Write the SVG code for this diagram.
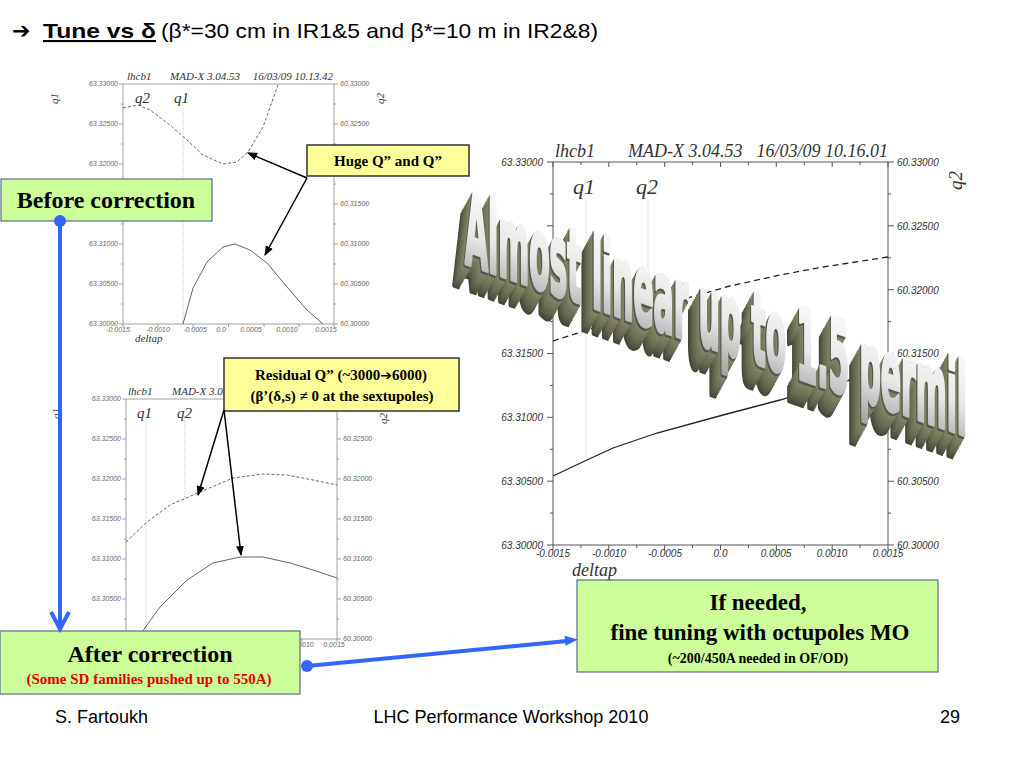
<svg xmlns="http://www.w3.org/2000/svg" xmlns:xlink="http://www.w3.org/1999/xlink" width="1024" height="768" viewBox="0 0 1024 768">
<defs>
<style>
.ax{stroke:#888;stroke-width:0.8;fill:none}
.axR{stroke:#555;stroke-width:1;fill:none}
.tk{font-family:"Liberation Sans",sans-serif;font-style:italic;font-size:7px;fill:#666}
.tkR{font-family:"Liberation Sans",sans-serif;font-style:italic;font-size:10px;fill:#333}
.hdr{font-family:"Liberation Serif",serif;font-style:italic;fill:#333}
.dS{stroke:#555;stroke-width:0.9;stroke-dasharray:3 2;fill:none}
.sS{stroke:#555;stroke-width:0.9;fill:none}
.dR{stroke:#222;stroke-width:1.3;stroke-dasharray:6 4;fill:none}
.sR{stroke:#222;stroke-width:1.3;fill:none}
.vl{stroke:#bbb;stroke-width:0.8;stroke-dasharray:1 1;fill:none}
.boxY{fill:#FFFF99;stroke:#333;stroke-width:1.5}
.boxG{fill:#CCFF99;stroke:#5a6a90;stroke-width:1.2}
.bt{font-family:"Liberation Serif",serif;font-weight:bold;text-anchor:middle;fill:#000}
.blue{stroke:#3366FF;stroke-width:4;fill:none}
.blk{stroke:#000;stroke-width:1.5;fill:none;marker-end:url(#ah)}
.ft{font-family:"Liberation Sans",sans-serif;font-size:18px;fill:#000}
.ext{stroke-width:5;stroke-linejoin:round}
</style>
<marker id="ah" viewBox="0 0 10 8" refX="9" refY="4" markerWidth="10" markerHeight="8" markerUnits="userSpaceOnUse" orient="auto">
<path d="M0,0 L10,4 L0,8 z" fill="#000"/>
</marker>
<linearGradient id="face" x1="0" y1="0" x2="0" y2="1">
<stop offset="0" stop-color="#ffffff"/>
<stop offset="0.55" stop-color="#e8e8e8"/>
<stop offset="1" stop-color="#a0a0a0"/>
</linearGradient>
<text id="wa" transform="translate(465,263) skewY(19)" x="0" y="0" font-family="'Liberation Sans Narrow','DejaVu Sans Condensed',sans-serif" font-weight="bold" font-size="100" textLength="502" lengthAdjust="spacingAndGlyphs">Almost linear up to 1.5 permil</text>
</defs>

<rect width="1024" height="768" fill="#fff"/>

<!-- Title -->
<text y="38" font-family="'Liberation Sans','DejaVu Sans',sans-serif" font-size="21" fill="#000"><tspan x="12" font-family="'DejaVu Sans',sans-serif" font-weight="bold" font-size="22">➔</tspan><tspan x="43" font-weight="bold" text-decoration="underline" textLength="113" lengthAdjust="spacingAndGlyphs">Tune vs δ</tspan><tspan x="161" textLength="437" lengthAdjust="spacingAndGlyphs">(β*=30 cm in IR1&amp;5 and β*=10 m in IR2&amp;8)</tspan></text>

<!-- Top-left plot -->
<g id="plot-before">
<path class="ax" d="M123,84 V324 H334 V84 Z"/>
<path class="ax" d="M119,84H123M121,104H123M119,124H123M121,144H123M119,164H123M121,184H123M119,204H123M121,224H123M119,244H123M121,264H123M119,284H123M121,304H123M119,324H123
M334,84H338M334,104H336M334,124H338M334,144H336M334,164H338M334,184H336M334,204H338M334,224H336M334,244H338M334,264H336M334,284H338M334,304H336M334,324H338
M123,324V327M158,324V327M193,324V327M228.5,324V327M264,324V327M299,324V327M334,324V327"/>
<g class="tk" text-anchor="end">
<text x="118" y="86">63.33000</text>
<text x="118" y="126">63.32500</text>
<text x="118" y="166">63.32000</text>
<text x="118" y="246">63.31000</text>
<text x="118" y="286">63.30500</text>
<text x="118" y="326">63.30000</text>
</g>
<g class="tk">
<text x="340" y="86">60.33000</text>
<text x="340" y="126">60.32500</text>
<text x="340" y="206">60.31500</text>
<text x="340" y="246">60.31000</text>
<text x="340" y="286">60.30500</text>
<text x="340" y="326">60.30000</text>
</g>
<g class="tk" text-anchor="middle" font-size="6.5">
<text x="118" y="332">-0.0015</text>
<text x="158" y="332">-0.0010</text>
<text x="195" y="332">-0.0005</text>
<text x="221" y="332">0.0</text>
<text x="251" y="332">0.0005</text>
<text x="287" y="332">0.0010</text>
<text x="326" y="332">0.0015</text>
</g>
<text class="hdr" x="135" y="342" font-size="11">deltap</text>
<text class="hdr" x="127" y="80" font-size="11">lhcb1</text>
<text class="hdr" x="170" y="80" font-size="11">MAD-X 3.04.53</text>
<text class="hdr" x="333" y="80" font-size="11" text-anchor="end">16/03/09 10.13.42</text>
<text class="hdr" x="135" y="103" font-size="15">q2</text>
<text class="hdr" x="174" y="103" font-size="15">q1</text>
<text class="hdr" font-size="11" transform="translate(58,104) rotate(-90)">q1</text>
<text class="hdr" font-size="11" transform="translate(384,104) rotate(-90)">q2</text>
<path class="vl" d="M183,108V324"/>
<polyline class="dS" points="123,108 138,105 150,110 170,125 187,140 203,155 223,164 237,162 248,152 263,127 278,85"/>
<polyline class="sS" points="183,324 193,288 207,262 223,247 235,244 250,250 267,263 287,287 307,310 323,324"/>
</g>

<!-- Bottom-left plot -->
<g id="plot-after">
<path class="ax" d="M126,399 V639 H337 V399 Z"/>
<path class="ax" d="M122,399H126M124,419H126M122,439H126M124,459H126M122,479H126M124,499H126M122,519H126M124,539H126M122,559H126M124,579H126M122,599H126M124,619H126M122,639H126
M337,399H341M337,419H339M337,439H341M337,459H339M337,479H341M337,499H339M337,519H341M337,539H339M337,559H341M337,579H339M337,599H341M337,619H339M337,639H341
M126,639V642M161,639V642M196,639V642M231.5,639V642M267,639V642M302,639V642M337,639V642"/>
<g class="tk" text-anchor="end">
<text x="121" y="401">63.33000</text>
<text x="121" y="441">63.32500</text>
<text x="121" y="481">63.32000</text>
<text x="121" y="521">63.31500</text>
<text x="121" y="561">63.31000</text>
<text x="121" y="601">63.30500</text>
</g>
<g class="tk">
<text x="343" y="441">60.32500</text>
<text x="343" y="481">60.32000</text>
<text x="343" y="521">60.31500</text>
<text x="343" y="561">60.31000</text>
<text x="343" y="601">60.30500</text>
<text x="343" y="641">60.30000</text>
</g>
<g class="tk" text-anchor="middle" font-size="6.5">
<text x="303" y="647">0.0010</text>
<text x="334" y="647">0.0015</text>
</g>
<text class="hdr" x="128" y="395" font-size="11">lhcb1</text>
<text class="hdr" x="172" y="395" font-size="11">MAD-X 3.04.53</text>
<text class="hdr" x="137" y="418" font-size="15">q1</text>
<text class="hdr" x="177" y="418" font-size="15">q2</text>
<text class="hdr" font-size="11" transform="translate(60,419) rotate(-90)">q1</text>
<text class="hdr" font-size="11" transform="translate(387,424) rotate(-90)">q2</text>
<path class="vl" d="M146,420V639M185,420V497"/>
<polyline class="dS" points="126,542 147,522 170,505 200,492 233,478 263,474 287,475 313,480 337,485"/>
<polyline class="sS" points="137,639 142,632 160,607 187,580 213,563 240,557 263,557 290,563 313,570 337,578"/>
</g>

<!-- Right plot -->
<g id="plot-right">
<path class="axR" d="M553,162 V545 H888 V162 Z"/>
<path class="axR" d="M547,162H553M550,193.9H553M547,225.8H553M550,257.8H553M547,289.7H553M550,321.6H553M547,353.5H553M550,385.4H553M547,417.3H553M550,449.3H553M547,481.2H553M550,513.1H553M547,545H553
M888,162H894M888,193.9H891M888,225.8H894M888,257.8H891M888,289.7H894M888,321.6H891M888,353.5H894M888,385.4H891M888,417.3H894M888,449.3H891M888,481.2H894M888,513.1H891M888,545H894
M553,162V167M580.9,162V165M608.8,162V167M636.8,162V165M664.7,162V167M692.6,162V165M720.5,162V167M748.4,162V165M776.3,162V167M804.3,162V165M832.2,162V167M860.1,162V165M888,162V167
M553,545V550M580.9,545V548M608.8,545V550M636.8,545V548M664.7,545V550M692.6,545V548M720.5,545V550M748.4,545V548M776.3,545V550M804.3,545V548M832.2,545V550M860.1,545V548M888,545V550"/>
<g class="tkR" text-anchor="end">
<text x="543" y="166">63.33000</text>
<text x="543" y="357">63.31500</text>
<text x="543" y="421">63.31000</text>
<text x="543" y="485">63.30500</text>
<text x="543" y="549">63.30000</text>
</g>
<g class="tkR">
<text x="897" y="166">60.33000</text>
<text x="897" y="230">60.32500</text>
<text x="897" y="294">60.32000</text>
<text x="897" y="357">60.31500</text>
<text x="897" y="485">60.30500</text>
<text x="897" y="549">60.30000</text>
</g>
<g class="tkR" text-anchor="middle">
<text x="553" y="557">-0.0015</text>
<text x="609" y="557">-0.0010</text>
<text x="665" y="557">-0.0005</text>
<text x="720.5" y="557">0.0</text>
<text x="776" y="557">0.0005</text>
<text x="832" y="557">0.0010</text>
<text x="888" y="557">0.0015</text>
</g>
<text class="hdr" x="572" y="576" font-size="18">deltap</text>
<text class="hdr" x="555" y="157" font-size="18">lhcb1</text>
<text class="hdr" x="628" y="157" font-size="18">MAD-X 3.04.53</text>
<text class="hdr" x="888" y="157" font-size="18" text-anchor="end">16/03/09 10.16.01</text>
<text class="hdr" x="573" y="194" font-size="22">q1</text>
<text class="hdr" x="636" y="194" font-size="22">q2</text>
<text class="hdr" font-size="19" transform="translate(962,190) rotate(-90)">q2</text>
<path class="vl" d="M586,200V458M648,200V317"/>
<polyline class="dR" points="553,341 613,322 670,303 730,286 780,275 823,267 888,257"/>
<polyline class="sR" points="553,476 570,468 587,460 613,448 657,433 723,415 780,400 813,390 850,380 888,370"/>
</g>

<!-- WordArt -->
<g id="wordart">
<use xlink:href="#wa" href="#wa" class="ext" x="-12.1" y="22" fill="#45463a" stroke="#45463a"/>
<use xlink:href="#wa" href="#wa" class="ext" x="-11" y="20" fill="#4e5040" stroke="#4e5040"/>
<use xlink:href="#wa" href="#wa" class="ext" x="-9.9" y="18" fill="#575946" stroke="#575946"/>
<use xlink:href="#wa" href="#wa" class="ext" x="-8.8" y="16" fill="#5f614c" stroke="#5f614c"/>
<use xlink:href="#wa" href="#wa" class="ext" x="-7.7" y="14" fill="#666851" stroke="#666851"/>
<use xlink:href="#wa" href="#wa" class="ext" x="-6.6" y="12" fill="#6c6e55" stroke="#6c6e55"/>
<use xlink:href="#wa" href="#wa" class="ext" x="-5.5" y="10" fill="#717359" stroke="#717359"/>
<use xlink:href="#wa" href="#wa" class="ext" x="-4.4" y="8" fill="#76785d" stroke="#76785d"/>
<use xlink:href="#wa" href="#wa" class="ext" x="-3.3" y="6" fill="#7b7d61" stroke="#7b7d61"/>
<use xlink:href="#wa" href="#wa" class="ext" x="-2.2" y="4" fill="#808265" stroke="#808265"/>
<use xlink:href="#wa" href="#wa" class="ext" x="-1.1" y="2" fill="#55574a" stroke="#55574a"/>
<use xlink:href="#wa" href="#wa" fill="url(#face)" stroke="url(#face)" stroke-width="4.5" stroke-linejoin="round"/>
</g>

<!-- Nodes -->
<g id="box-huge">
<rect class="boxY" x="307" y="145" width="162" height="31"/>
<text class="bt" x="388" y="166" font-size="15">Huge Q” and Q”</text>
</g>
<g id="box-before">
<rect class="boxG" x="1" y="179" width="211" height="42"/>
<text class="bt" x="106" y="208" font-size="24">Before correction</text>
</g>
<g id="box-residual">
<rect class="boxY" x="224" y="358" width="235" height="53"/>
<text class="bt" x="341" y="380" font-size="15">Residual Q” (~3000<tspan font-family="'DejaVu Sans',sans-serif" font-size="14">➔</tspan>6000)</text>
<text class="bt" x="342" y="401" font-size="15">(β’(δ,s) ≠ 0 at the sextupoles)</text>
</g>
<g id="box-after">
<rect class="boxG" x="0" y="631" width="300" height="63"/>
<text class="bt" x="150" y="662" font-size="24">After correction</text>
<text class="bt" x="149" y="684" font-size="15" style="fill:#E00000">(Some SD families pushed up to 550A)</text>
</g>
<g id="box-ifneeded">
<rect class="boxG" x="577" y="580" width="361" height="92"/>
<text class="bt" x="758" y="610" font-size="23">If needed,</text>
<text class="bt" x="760" y="640" font-size="23">fine tuning with octupoles MO</text>
<text class="bt" x="758" y="663" font-size="14">(~200/450A needed in OF/OD)</text>
</g>

<!-- Connectors -->
<g id="connectors">
<path class="blk" d="M307,178 L248,153"/>
<path class="blk" d="M307,178 L265,255"/>
<path class="blk" d="M224,410 L198,495"/>
<path class="blk" d="M224,410 L241,555"/>
<circle cx="60" cy="221" r="6" fill="#3366FF"/>
<path class="blue" d="M60,221 V627"/>
<path class="blue" d="M51,612 L60,629 L69,612" stroke-linejoin="miter"/>
<circle cx="307" cy="666" r="6" fill="#3366FF"/>
<path class="blue" d="M307,666 L567,641"/>
<polygon points="578,639.5 565.5,645.8 564.5,635.8" fill="#3366FF"/>
</g>

<!-- Footer -->
<text class="ft" x="55" y="723">S. Fartoukh</text>
<text class="ft" x="511" y="723" text-anchor="middle">LHC Performance Workshop 2010</text>
<text class="ft" x="960" y="723" text-anchor="end">29</text>
</svg>
